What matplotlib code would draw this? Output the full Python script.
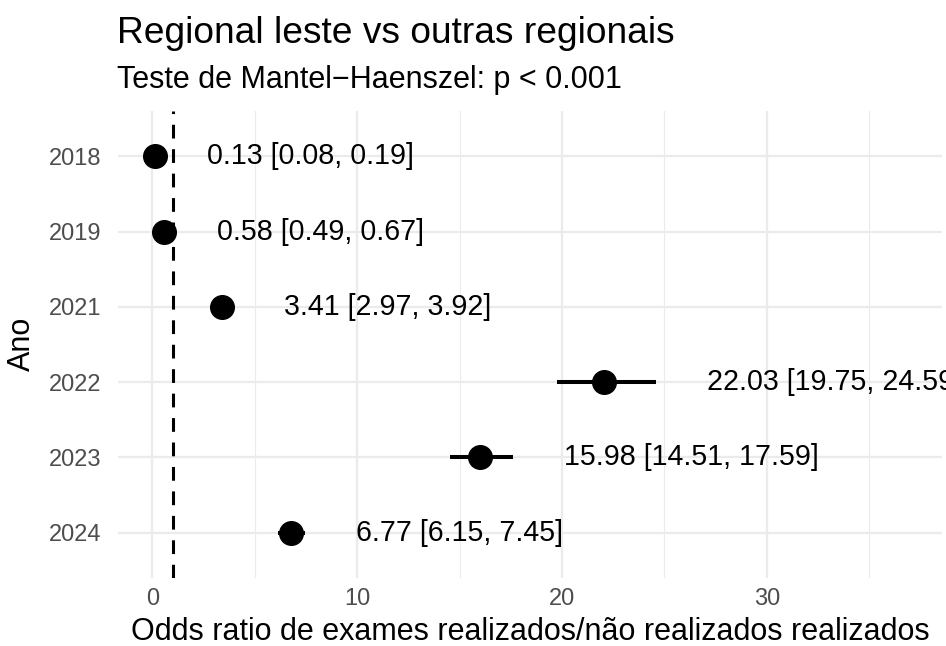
import matplotlib
matplotlib.use("Agg")
import matplotlib.pyplot as plt

years = ["2018", "2019", "2021", "2022", "2023", "2024"]
odds_ratio = [0.13, 0.58, 3.41, 22.03, 15.98, 6.77]
ci_low = [0.08, 0.49, 2.97, 19.75, 14.51, 6.15]
ci_high = [0.19, 0.67, 3.92, 24.59, 17.59, 7.45]
x_ticks = [0, 10, 20, 30]
x_minor = [5, 15, 25, 35]

plt.rcParams["font.family"] = ["Liberation Sans", "DejaVu Sans"]

W, H = 946, 646
fig = plt.figure(figsize=(W / 100, H / 100), dpi=100)
ax = fig.add_axes([118 / W, 1 - 578 / H, (942 - 118) / W, (578 - 111) / H])

ypos = list(range(len(years)))
grid_major = "#EBEBEB"
for x in x_ticks:
    ax.axvline(x, color=grid_major, lw=1.6, zorder=0)
for x in x_minor:
    ax.axvline(x, color=grid_major, lw=0.8, zorder=0)
for y in ypos:
    ax.axhline(y, color=grid_major, lw=1.6, zorder=0)

# reference line at OR = 1
ax.axvline(1, color="black", lw=2.2, linestyle=(0, (4.5, 3.5)), zorder=1)

ax.hlines(ypos, ci_low, ci_high, color="black", lw=2.9, zorder=2)
ax.plot(odds_ratio, ypos, "o", color="black", markersize=17, zorder=3)

for y, orv, lo, hi in zip(ypos, odds_ratio, ci_low, ci_high):
    ax.text(hi + 2.5, y, f"{orv:.2f} [{lo:.2f}, {hi:.2f}]", ha="left", va="center",
            fontsize=20.6, color="black", clip_on=False, zorder=4)

ax.set_xlim(-1.68, 38.56)
ax.set_ylim(len(years) - 1 + 0.6, -0.6)
ax.set_yticks(ypos)
ax.set_yticklabels(years)
ax.set_xticks(x_ticks)
ax.tick_params(length=0, labelsize=17, labelcolor="#4D4D4D")
ax.tick_params(axis="y", pad=12)
ax.tick_params(axis="x", pad=7)
for s in ax.spines.values():
    s.set_visible(False)

fig.text(530 / W, 1 - 640 / H, "Odds ratio de exames realizados/não realizados realizados",
         fontsize=22, ha="center", va="baseline")
fig.text(22 / W, 1 - 344 / H, "Ano", fontsize=22, ha="center", va="center", rotation=90)

fig.text(117 / W, 1 - 43 / H, "Regional leste vs outras regionais", fontsize=26.7, va="baseline", ha="left")
fig.text(117 / W, 1 - 88 / H, "Teste de Mantel\u2212Haenszel: p < 0.001", fontsize=22, va="baseline", ha="left")

fig.savefig("out.png", dpi=100, facecolor="white")
